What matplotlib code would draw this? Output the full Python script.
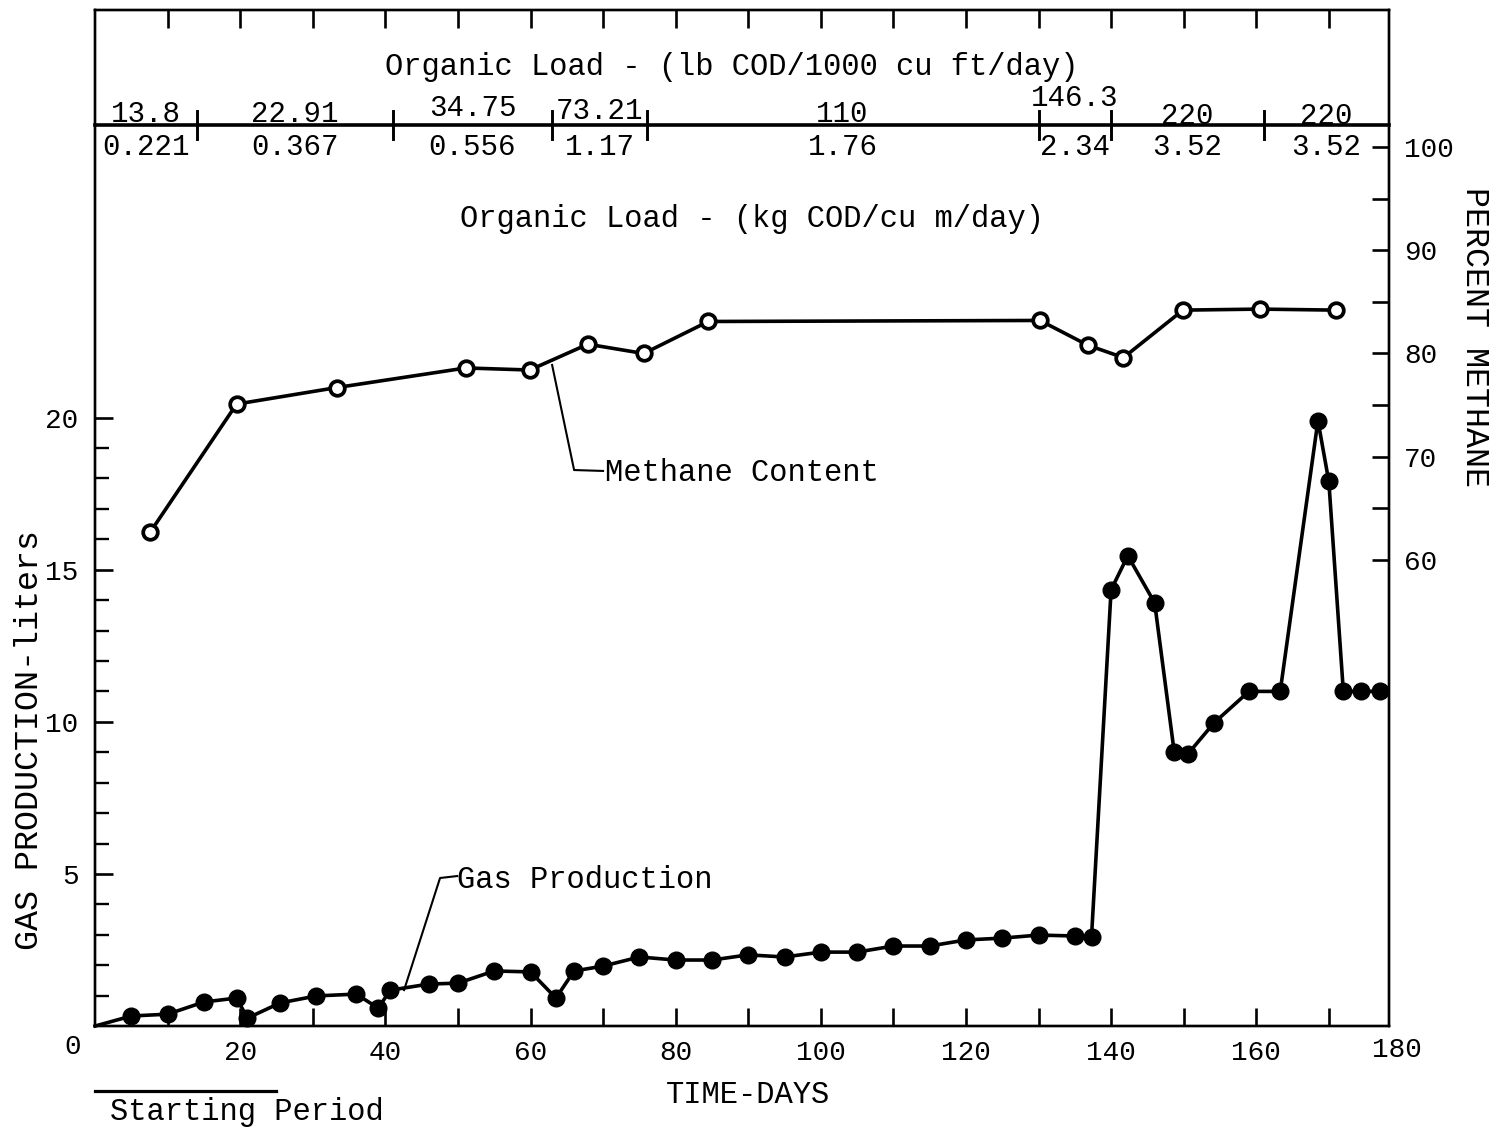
import matplotlib
matplotlib.use("Agg")
import matplotlib.pyplot as plt
from matplotlib.ticker import FixedLocator, NullFormatter

# ---- data ----
days_gas = [0, 5, 10, 15, 19.5, 21, 25.5, 30.5, 36, 39, 40.7, 46, 50, 55, 60,
            63.5, 66, 70, 75, 80, 85, 90, 95, 100, 105, 110, 115, 120, 125,
            130, 135, 137.3, 140, 142.3, 146, 148.7, 150.6, 154.2, 159, 163.3,
            168.5, 170, 172, 174.4, 177]
gas_liters = [0, 0.33, 0.39, 0.79, 0.92, 0.26, 0.76, 0.99, 1.05, 0.59, 1.18,
              1.38, 1.41, 1.81, 1.78, 0.92, 1.81, 1.97, 2.27, 2.17, 2.17, 2.34,
              2.27, 2.43, 2.43, 2.63, 2.63, 2.83, 2.89, 2.99, 2.96, 2.93, 14.34,
              15.46, 13.91, 9.0, 8.95, 9.97, 11.0, 11.0, 19.9, 17.9, 11.0, 11.0,
              11.0]

days_methane = [7.6, 19.5, 33.3, 51.1, 59.9, 67.9, 75.6, 84.5, 130.2, 136.8,
                141.7, 149.9, 160.5, 171.0]
methane_pct = [62.7, 75.1, 76.7, 78.6, 78.4, 80.9, 80.0, 83.1, 83.2, 80.8,
               79.6, 84.2, 84.3, 84.2]

# organic loading periods (day boundaries) and their loads
load_bounds = [0, 14, 41, 63, 76, 130, 140, 161]
load_lb = ["13.8", "22.91", "34.75", "73.21", "110", "146.3", "220", "220"]
load_kg = ["0.221", "0.367", "0.556", "1.17", "1.76", "2.34", "3.52", "3.52"]

x_labeled = [20, 40, 60, 80, 100, 120, 140, 160]
x_unlabeled = [10, 30, 50, 70, 90, 110, 130, 150, 170]
gas_major = [5, 10, 15, 20]
gas_minor = [1, 2, 3, 4, 6, 7, 8, 9, 11, 12, 13, 14, 16, 17, 18, 19]
pct_major = [60, 70, 80, 90, 100]
pct_minor = [65, 75, 85, 95]

starting_period = (0, 25)

# ---- style ----
FONT = ["Liberation Mono", "DejaVu Sans Mono"]
plt.rcParams["font.family"] = FONT
plt.rcParams["font.size"] = 22
INK = "black"

fig = plt.figure(figsize=(14.97, 11.30), dpi=100)
ax = fig.add_axes([0.0635, 0.0920, 0.8644, 0.8992])
ax2 = ax.twinx()

x_max = 178.3
ax.set_xlim(0, x_max)
ax.set_ylim(0, 33.4)
ax2.set_ylim(14.87, 113.27)

for a in (ax, ax2):
    for s in a.spines.values():
        s.set_linewidth(1.7)
        s.set_color(INK)

# gas production (filled markers), line starts at the origin
ax.plot(days_gas, gas_liters, color=INK, lw=2.6, marker="o", ms=12,
        mfc=INK, mec=INK, markevery=list(range(1, len(days_gas))),
        clip_on=False, zorder=3)

# methane content (open markers)
ax2.plot(days_methane, methane_pct, color=INK, lw=2.6, marker="o", ms=10.5,
         mfc="white", mec=INK, mew=2.7, zorder=3)

# x ticks
ax.xaxis.set_major_locator(FixedLocator(x_labeled))
ax.xaxis.set_minor_locator(FixedLocator(x_unlabeled))
ax.set_xticklabels([str(v) for v in x_labeled])
ax.xaxis.set_minor_formatter(NullFormatter())
ax.tick_params(axis="x", which="both", direction="in", length=13, width=1.9,
               top=True, bottom=True, labelsize=20, pad=10)

# left y ticks
ax.yaxis.set_major_locator(FixedLocator(gas_major))
ax.yaxis.set_minor_locator(FixedLocator(gas_minor))
ax.set_yticklabels([str(v) for v in gas_major])
ax.yaxis.set_minor_formatter(NullFormatter())
ax.tick_params(axis="y", which="major", direction="in", length=13, width=1.9,
               labelsize=20, pad=12, right=False)
ax.tick_params(axis="y", which="minor", direction="in", length=10, width=1.7,
               right=False)

# right y ticks
ax2.yaxis.set_major_locator(FixedLocator(pct_major))
ax2.yaxis.set_minor_locator(FixedLocator(pct_minor))
ax2.set_yticklabels([str(v) for v in pct_major])
ax2.yaxis.set_minor_formatter(NullFormatter())
ax2.tick_params(axis="y", which="both", direction="in", length=12, width=1.9,
                labelsize=20, pad=11, left=False)

# corner labels
fig.text(0.0488, 0.0735, "0", ha="center", va="center", fontsize=20)
fig.text(0.9332, 0.0708, "180", ha="center", va="center", fontsize=20)

# ---- organic loading band along the top ----
band_y = 0.8868
xa = ax.get_xaxis_transform()
ax.plot([0, x_max], [band_y, band_y], transform=xa, color=INK, lw=2.6,
        clip_on=False, zorder=2)
for b in load_bounds[1:]:
    ax.plot([b, b], [band_y - 0.014, band_y + 0.014], transform=xa,
            color=INK, lw=2.1, zorder=2)

edges = load_bounds + [x_max]
upper_raise = [-1, -1, 5, 2, -1, 15, -3, -3]
for i, (lb, kg) in enumerate(zip(load_lb, load_kg)):
    mid = 0.5 * (edges[i] + edges[i + 1])
    ax.annotate(lb, (mid, band_y + 0.0118), xycoords=xa,
                xytext=(0, upper_raise[i] * 0.72), textcoords="offset points",
                ha="center", va="center", fontsize=21)
    ax.text(mid, band_y - 0.0216, kg, transform=xa, ha="center",
            va="center", fontsize=21)

ax.text(0.4923, 0.9439, "Organic Load - (lb COD/1000 cu ft/day)",
        transform=ax.transAxes, ha="center", va="center", fontsize=22)
ax.text(0.5077, 0.7943, "Organic Load - (kg COD/cu m/day)",
        transform=ax.transAxes, ha="center", va="center", fontsize=22)

# ---- curve labels with leader lines ----
ax.plot([0.3532, 0.3702, 0.3926], [0.6506, 0.5472, 0.5463],
        transform=ax.transAxes, color=INK, lw=1.5)
ax.text(0.3941, 0.5443, "Methane Content", transform=ax.transAxes,
        ha="left", va="center", fontsize=22)

ax.plot([0.2388, 0.2666, 0.2798], [0.0354, 0.1457, 0.1476],
        transform=ax.transAxes, color=INK, lw=1.5)
ax.text(0.2798, 0.1437, "Gas Production", transform=ax.transAxes,
        ha="left", va="center", fontsize=22)

# ---- axis titles ----
ax.text(0.5046, -0.0679, "TIME-DAYS", transform=ax.transAxes,
        ha="center", va="center", fontsize=22)
fig.text(0.020, 0.345, "GAS PRODUCTION-liters", rotation=90,
         ha="center", va="center", fontsize=24)
fig.text(0.9853, 0.7018, "PERCENT METHANE", rotation=-90,
         ha="center", va="center", fontsize=24)

# starting period marker below the axis
ax.plot(list(starting_period), [-0.064, -0.064], transform=xa, color=INK,
        lw=2.3, clip_on=False)
ax.text(0.1175, -0.0846, "Starting Period", transform=ax.transAxes,
        ha="center", va="center", fontsize=22)

fig.savefig("out.png", dpi=100)
